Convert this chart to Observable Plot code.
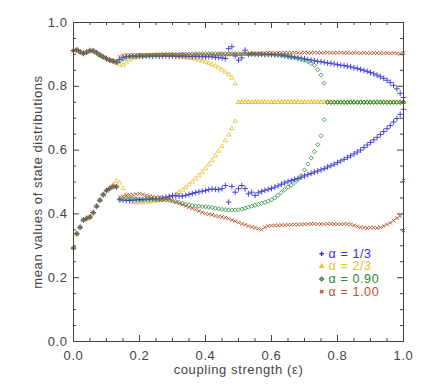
<!DOCTYPE html>
<html><head><meta charset="utf-8">
<script src="https://cdn.jsdelivr.net/npm/d3@7"></script>
<script src="https://cdn.jsdelivr.net/npm/@observablehq/plot@0.6"></script>
<style>
body{margin:0;background:#fff}
#chart svg text{letter-spacing:0.6px}
</style></head><body><div id="chart"></div>
<script>
// coupling strength grid (ε = 0.00 … 1.00)
const eps = d3.range(101).map(i => i / 100);

// shared values before the first jump (ε = 0.00 … 0.13)
const earlyUpper = [0.912,0.914,0.908,0.903,0.907,0.912,0.911,0.905,0.898,0.892,0.887,0.882,0.879,0.876];
const earlyLower = [0.293,0.338,0.358,0.381,0.386,0.390,0.404,0.424,0.443,0.460,0.473,0.480,0.486,0.485];

// α = 1/3
const blueUpper = [...earlyUpper,
  0.884,0.890,0.893,0.894,0.895,0.894,
  0.895,0.894,0.895,0.895,0.894,0.895,0.894,0.895,0.895,0.894,
  0.895,0.894,0.894,0.895,0.894,0.894,0.893,0.894,0.893,0.893,
  0.892,0.893,0.892,0.891,0.890,0.889,0.887,0.918,0.924,0.895,
  0.882,0.889,0.913,0.900,0.902,0.901,0.900,0.901,0.900,0.900,
  0.900,0.899,0.899,0.898,0.896,0.894,0.892,0.891,0.889,0.888,
  0.886,0.884,0.882,0.880,0.878,0.877,0.875,0.873,0.872,0.870,
  0.868,0.866,0.865,0.863,0.861,0.858,0.856,0.853,0.850,0.847,
  0.843,0.839,0.835,0.830,0.825,0.819,0.812,0.803,0.792,0.778,
  0.765];
const blueLower = [...earlyLower,
  0.446,0.443,0.442,0.442,0.443,0.444,
  0.445,0.445,0.446,0.446,0.447,0.447,0.448,0.450,0.452,0.455,
  0.457,0.457,0.456,0.456,0.458,0.461,0.464,0.467,0.469,0.471,
  0.473,0.476,0.478,0.477,0.476,0.479,0.489,0.437,0.486,0.468,
  0.479,0.489,0.479,0.463,0.468,0.458,0.466,0.470,0.474,0.477,
  0.480,0.484,0.488,0.493,0.497,0.501,0.505,0.508,0.511,0.515,
  0.519,0.523,0.527,0.531,0.534,0.538,0.542,0.547,0.551,0.556,
  0.561,0.566,0.571,0.577,0.582,0.588,0.594,0.600,0.608,0.616,
  0.624,0.632,0.640,0.649,0.658,0.667,0.677,0.688,0.699,0.712,
  0.728];

// α = 2/3
const yellowUpper = [...earlyUpper.slice(0, 13),
  0.873,0.868,0.867,0.874,0.883,0.889,0.891,
  0.893,0.894,0.895,0.896,0.897,0.898,0.899,0.900,0.900,0.899,
  0.898,0.896,0.894,0.893,0.891,0.890,0.888,0.886,0.883,0.880,
  0.876,0.873,0.869,0.864,0.858,0.852,0.845,0.837,0.826,0.808,
  0.75,0.75,0.75,0.75,0.75,0.75,0.75,0.75,0.75,0.75,
  0.75,0.75,0.75,0.75,0.75,0.75,0.75,0.75,0.75,0.75,
  0.75,0.75,0.75,0.75,0.75,0.75,0.75,0.75,0.75,0.75,
  0.75,0.75,0.75,0.75,0.75,0.75,0.75,0.75,0.75,0.75,
  0.75,0.75,0.75,0.75,0.75,0.75,0.75,0.75,0.75,0.75,
  0.75];
const yellowLower = [...earlyLower.slice(0, 12),
  0.492,0.503,0.497,0.480,0.460,0.445,0.437,0.436,
  0.436,0.436,0.437,0.438,0.439,0.441,0.443,0.445,0.447,0.451,
  0.456,0.462,0.468,0.475,0.483,0.492,0.500,0.510,0.520,0.530,
  0.542,0.555,0.568,0.582,0.597,0.612,0.630,0.648,0.668,0.690,
  0.75,0.75,0.75,0.75,0.75,0.75,0.75,0.75,0.75,0.75,
  0.75,0.75,0.75,0.75,0.75,0.75,0.75,0.75,0.75,0.75,
  0.75,0.75,0.75,0.75,0.75,0.75,0.75,0.75,0.75,0.75,
  0.75,0.75,0.75,0.75,0.75,0.75,0.75,0.75,0.75,0.75,
  0.75,0.75,0.75,0.75,0.75,0.75,0.75,0.75,0.75,0.75,
  0.75];

// α = 0.90
const greenUpper = [...earlyUpper,
  0.879,0.886,0.891,0.893,0.894,0.895,
  0.896,0.896,0.897,0.897,0.898,0.898,0.898,0.899,0.899,0.899,
  0.900,0.900,0.900,0.901,0.901,0.901,0.901,0.902,0.902,0.902,
  0.902,0.902,0.902,0.902,0.902,0.902,0.902,0.902,0.902,0.902,
  0.902,0.902,0.902,0.901,0.901,0.901,0.901,0.900,0.900,0.900,
  0.899,0.899,0.898,0.897,0.896,0.894,0.892,0.890,0.888,0.885,
  0.882,0.878,0.872,0.866,0.852,0.835,0.810,
  0.75,0.75,0.75,
  0.75,0.75,0.75,0.75,0.75,0.75,0.75,0.75,0.75,0.75,
  0.75,0.75,0.75,0.75,0.75,0.75,0.75,0.75,0.75,0.75,
  0.75];
const greenLower = [...earlyLower,
  0.443,0.448,0.450,0.449,0.448,0.447,
  0.446,0.445,0.446,0.447,0.447,0.446,0.445,0.444,0.444,0.443,
  0.441,0.439,0.436,0.433,0.430,0.428,0.426,0.425,0.424,0.423,
  0.422,0.421,0.420,0.418,0.416,0.414,0.413,0.412,0.412,0.412,
  0.413,0.415,0.418,0.421,0.424,0.427,0.430,0.433,0.436,0.440,
  0.444,0.450,0.458,0.467,0.476,0.484,0.490,0.498,0.508,0.520,
  0.538,0.556,0.575,0.595,0.617,0.645,0.695,
  0.75,0.75,0.75,
  0.75,0.75,0.75,0.75,0.75,0.75,0.75,0.75,0.75,0.75,
  0.75,0.75,0.75,0.75,0.75,0.75,0.75,0.75,0.75,0.75,
  0.75];

// α = 1.00
const brownUpper = [...earlyUpper,
  0.893,0.897,0.898,0.898,0.899,0.898,
  0.899,0.898,0.899,0.899,0.898,0.899,0.899,0.898,0.899,0.899,
  0.899,0.898,0.899,0.899,0.899,0.898,0.899,0.899,0.899,0.899,
  0.899,0.899,0.900,0.899,0.900,0.900,0.899,0.900,0.900,0.901,
  0.900,0.901,0.902,0.901,0.902,0.903,0.902,0.903,0.904,0.905,
  0.905,0.904,0.905,0.905,0.906,0.905,0.905,0.906,0.905,0.905,
  0.906,0.905,0.905,0.906,0.905,0.905,0.905,0.906,0.905,0.905,
  0.905,0.906,0.905,0.905,0.904,0.905,0.905,0.904,0.905,0.904,
  0.904,0.905,0.904,0.904,0.903,0.904,0.903,0.904,0.903,0.902,
  0.904];
const brownLower = [...earlyLower,
  0.452,0.455,0.458,0.460,0.460,0.462,
  0.463,0.461,0.458,0.456,0.454,0.452,0.451,0.450,0.448,0.445,
  0.441,0.437,0.433,0.429,0.425,0.421,0.417,0.413,0.409,0.405,
  0.401,0.399,0.397,0.394,0.392,0.390,0.388,0.385,0.381,0.377,
  0.373,0.369,0.366,0.362,0.359,0.357,0.354,0.351,0.358,0.362,
  0.363,0.364,0.364,0.365,0.365,0.366,0.366,0.367,0.367,0.367,
  0.368,0.368,0.369,0.369,0.368,0.368,0.368,0.369,0.369,0.368,
  0.368,0.368,0.369,0.368,0.367,0.364,0.361,0.358,0.357,0.356,
  0.357,0.357,0.356,0.358,0.362,0.367,0.372,0.379,0.387,0.393,
  0.348];
const brownExtraEps = [1.0];
const brownExtraValue = [0.505];

// series styling / legend
const seriesLabels = ["α = 1/3", "α = 2/3", "α = 0.90", "α = 1.00"];
const seriesColors = ["#3434d6", "#e6c22c", "#238c36", "#b3542a"];
const seriesSymbols = ["plus", "triangle2", "diamond2", "times"];

// axis ticks
const xMajorTicks = [0, 0.2, 0.4, 0.6, 0.8, 1.0];
const xMinorTicks = [0.05,0.1,0.15,0.25,0.3,0.35,0.45,0.5,0.55,0.65,0.7,0.75,0.85,0.9,0.95];
const yMajorTicks = [0, 0.2, 0.4, 0.6, 0.8, 1.0];
const yMinorTicks = [0.05,0.1,0.15,0.25,0.3,0.35,0.45,0.5,0.55,0.65,0.7,0.75,0.85,0.9,0.95];

function points(upper, lower) {
  const out = [];
  upper.forEach((v, i) => { if (v != null) out.push({eps: eps[i], v}); });
  lower.forEach((v, i) => { if (v != null) out.push({eps: eps[i], v}); });
  return out;
}
const seriesData = [
  points(blueUpper, blueLower),
  points(yellowUpper, yellowLower),
  points(greenUpper, greenLower),
  points(brownUpper, brownLower).concat(brownExtraEps.map((e, i) => ({eps: e, v: brownExtraValue[i]})))
];
const seriesR = [2.0, 2.1, 1.9, 1.8];
const seriesSW = [0.9, 0.8, 0.8, 0.9];
const drawOrder = [1, 0, 2, 3];

const W = 425, H = 387, mL = 73, mR = 22, mT = 22, mB = 46;
const fw = W - mL - mR, fh = H - mT - mB;
const axisColor = "#444";

const legend = seriesLabels.map((label, i) => ({label, i}));

const chart = Plot.plot({
  width: W, height: H,
  marginLeft: mL, marginRight: mR, marginTop: mT, marginBottom: mB,
  style: {fontFamily: "Liberation Sans, Arial, sans-serif", fontSize: "13px", color: axisColor, background: "#fff"},
  x: {domain: [0, 1]},
  y: {domain: [0, 1]},
  marks: [
    ...drawOrder.map(k => Plot.dot(seriesData[k], {
      x: "eps", y: "v", symbol: seriesSymbols[k], stroke: seriesColors[k],
      fill: "none", r: seriesR[k], strokeWidth: seriesSW[k]
    })),
    Plot.frame({stroke: axisColor, strokeWidth: 1}),
    // inward ticks on all four sides
    Plot.tickX(xMajorTicks, {x: d => d, insetTop: fh - 6, stroke: axisColor}),
    Plot.tickX(xMinorTicks, {x: d => d, insetTop: fh - 3, stroke: axisColor}),
    Plot.tickX(xMajorTicks, {x: d => d, insetBottom: fh - 6, stroke: axisColor}),
    Plot.tickX(xMinorTicks, {x: d => d, insetBottom: fh - 3, stroke: axisColor}),
    Plot.tickY(yMajorTicks, {y: d => d, insetRight: fw - 6, stroke: axisColor}),
    Plot.tickY(yMinorTicks, {y: d => d, insetRight: fw - 3, stroke: axisColor}),
    Plot.tickY(yMajorTicks, {y: d => d, insetLeft: fw - 6, stroke: axisColor}),
    Plot.tickY(yMinorTicks, {y: d => d, insetLeft: fw - 3, stroke: axisColor}),
    Plot.axisX({ticks: xMajorTicks, tickSize: 0, tickPadding: 9, tickFormat: ".1f",
      label: "coupling strength (ε)", labelAnchor: "center", labelArrow: "none", labelOffset: 32, fontSize: 13}),
    Plot.axisY({ticks: yMajorTicks, tickSize: 0, tickPadding: 6, tickFormat: ".1f",
      label: "mean values of state distributions", labelAnchor: "center", labelArrow: "none", labelOffset: 41, fontSize: 13}),
    // legend
    Plot.dot(legend, {x: () => 0.752, y: d => 0.275 - d.i * 0.0395,
      symbol: d => seriesSymbols[d.i], stroke: d => seriesColors[d.i], fill: "none", r: 1.6}),
    Plot.text(legend, {x: () => 0.773, y: d => 0.275 - d.i * 0.0395, text: "label",
      fill: d => seriesColors[d.i], textAnchor: "start", fontSize: 12.5})
  ]
});
document.getElementById("chart").appendChild(chart);
</script></body></html>
